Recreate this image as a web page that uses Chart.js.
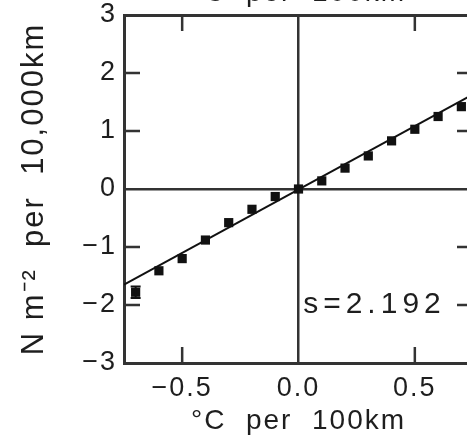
<!DOCTYPE html>
<html>
<head>
<meta charset="utf-8">
<script src="https://cdn.jsdelivr.net/npm/chart.js@4.4.1/dist/chart.umd.min.js"></script>
<style>
  html, body { margin: 0; padding: 0; background: #fff; overflow: hidden; }
  #wrap { position: absolute; left: 0; top: -40px; width: 500px; height: 490px; }
</style>
</head>
<body>
<div id="wrap"><canvas id="chart"></canvas></div>
<script>
// binned points (°C per 100km vs N m-2 per 10,000km)
const xVals = [-0.7, -0.6, -0.5, -0.4, -0.3, -0.2, -0.1, 0.0, 0.1, 0.2, 0.3, 0.4, 0.5, 0.6, 0.7];
const yVals = [-1.78, -1.41, -1.20, -0.88, -0.58, -0.35, -0.13, 0.0, 0.14, 0.36, 0.57, 0.83, 1.03, 1.25, 1.42];
const yErr  = [0.10, 0, 0, 0, 0, 0, 0, 0, 0, 0, 0, 0, 0, 0, 0];

// regression line end points
const fitX = [-0.75, 0.75];
const fitY = [-1.65, 1.63];

const xTicks = [-0.5, 0.0, 0.5];
const yTicks = [-3, -2, -1, 0, 1, 2, 3];
const slopeText = "s=2.192";
const slopeAt = { x: 0.02, y: -2.0 };

const axisColor = "#333";
const textColor = "#1e1e1e";
const tickLen = 16;

function minus(s) {
    return String(s).replace("-", "\u2212");
}

const frameMarks = {
    id: "frameMarks",
    beforeDraw(chart) {
        chart.ctx.letterSpacing = "2px";
    },
    afterDatasetsDraw(chart) {
        const ctx = chart.ctx;
        const xs = chart.scales.x;
        const ys = chart.scales.y;
        ctx.save();
        ctx.strokeStyle = "#111";
        ctx.lineWidth = 2;
        xVals.forEach((x, i) => {
            if (!yErr[i]) return;
            const px = xs.getPixelForValue(x);
            const y1 = ys.getPixelForValue(yVals[i] - yErr[i]);
            const y2 = ys.getPixelForValue(yVals[i] + yErr[i]);
            ctx.beginPath();
            ctx.moveTo(px, y1);
            ctx.lineTo(px, y2);
            ctx.moveTo(px - 5, y1);
            ctx.lineTo(px + 5, y1);
            ctx.moveTo(px - 5, y2);
            ctx.lineTo(px + 5, y2);
            ctx.stroke();
        });
        ctx.restore();
    },
    afterDraw(chart) {
        const ctx = chart.ctx;
        const { left, right, top, bottom } = chart.chartArea;
        const xs = chart.scales.x;
        const ys = chart.scales.y;
        ctx.save();
        ctx.strokeStyle = axisColor;
        ctx.lineWidth = 2.5;
        ctx.beginPath();
        xTicks.filter((v) => v !== 0).forEach((v) => {
            const px = xs.getPixelForValue(v);
            ctx.moveTo(px, bottom);
            ctx.lineTo(px, bottom - tickLen);
            ctx.moveTo(px, top);
            ctx.lineTo(px, top + tickLen);
        });
        yTicks.filter((v) => v !== 0 && Math.abs(v) < 3).forEach((v) => {
            const py = ys.getPixelForValue(v);
            ctx.moveTo(left, py);
            ctx.lineTo(left + tickLen, py);
            ctx.moveTo(right, py);
            ctx.lineTo(right - tickLen, py);
        });
        ctx.stroke();

        ctx.letterSpacing = "5px";
        ctx.fillStyle = textColor;
        ctx.font = "30px 'Liberation Sans', Arial, sans-serif";
        ctx.textAlign = "left";
        ctx.textBaseline = "middle";
        ctx.fillText(slopeText, xs.getPixelForValue(slopeAt.x), ys.getPixelForValue(slopeAt.y));
        ctx.restore();
    },
};

Chart.defaults.font.family = "'Liberation Sans', Arial, sans-serif";
Chart.defaults.color = textColor;

new Chart(document.getElementById("chart"), {
    type: "scatter",
    data: {
        datasets: [
            {
                label: "bins",
                data: xVals.map((x, i) => ({ x: x, y: yVals[i] })),
                pointStyle: "rect",
                pointRadius: 6.5,
                pointBackgroundColor: "#111",
                pointBorderColor: "#111",
                pointBorderWidth: 0,
                order: 1,
            },
            {
                type: "line",
                label: "fit",
                data: fitX.map((x, i) => ({ x: x, y: fitY[i] })),
                borderColor: "#111",
                borderWidth: 2,
                pointRadius: 0,
                fill: false,
                order: 2,
            },
        ],
    },
    plugins: [frameMarks],
    options: {
        responsive: true,
        maintainAspectRatio: false,
        devicePixelRatio: 1,
        animation: false,
        layout: { padding: 0 },
        plugins: {
            legend: { display: false },
            tooltip: { enabled: false },
        },
        scales: {
            x: {
                type: "linear",
                position: "bottom",
                min: -0.75,
                max: 0.75,
                afterBuildTicks: (s) => { s.ticks = xTicks.map((v) => ({ value: v })); },
                afterFit: (s) => { s.height = 87; },
                grid: {
                    color: (c) => (c.tick && c.tick.value === 0 ? axisColor : "transparent"),
                    lineWidth: 2.5,
                    drawTicks: false,
                },
                border: { color: axisColor, width: 3 },
                ticks: {
                    padding: 9,
                    autoSkip: false,
                    maxRotation: 0,
                    font: { size: 27 },
                    callback: (v) => minus(Number(v).toFixed(1)),
                },
                title: {
                    display: true,
                    text: "°C  per  100km",
                    font: { size: 28 },
                    padding: { top: 0, bottom: 12 },
                },
            },
            x2: {
                type: "linear",
                position: "top",
                min: -0.75,
                max: 0.75,
                afterFit: (s) => { s.height = 55; },
                grid: { display: false },
                border: { color: axisColor, width: 3 },
                ticks: { display: false },
                title: {
                    display: true,
                    text: "°C  per  100km",
                    font: { size: 28 },
                    padding: { top: 16, bottom: 0 },
                },
            },
            y: {
                type: "linear",
                position: "left",
                min: -3,
                max: 3,
                afterBuildTicks: (s) => { s.ticks = yTicks.map((v) => ({ value: v })); },
                afterFit: (s) => { s.width = 124; },
                grid: {
                    color: (c) => (c.tick && c.tick.value === 0 ? axisColor : "transparent"),
                    lineWidth: 2.5,
                    drawTicks: false,
                },
                border: { color: axisColor, width: 3 },
                ticks: {
                    padding: 7,
                    font: { size: 27 },
                    callback: (v) => minus(v),
                },
                title: {
                    display: true,
                    text: "N m⁻²  per  10,000km",
                    font: { size: 31 },
                    padding: { top: 16, bottom: 0 },
                },
            },
            y2: {
                type: "linear",
                position: "right",
                min: -3,
                max: 3,
                afterFit: (s) => { s.width = 27; },
                grid: { display: false },
                border: { color: axisColor, width: 3 },
                ticks: { display: false },
            },
        },
    },
});
</script>
</body>
</html>
